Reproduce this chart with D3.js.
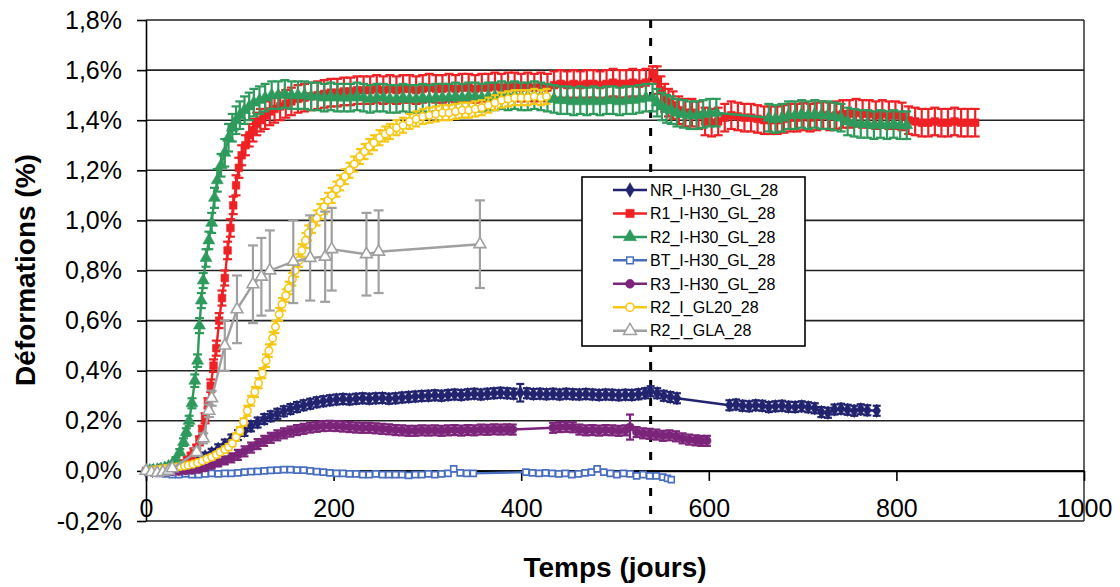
<!DOCTYPE html>
<html><head><meta charset="utf-8">
<script src="https://cdn.jsdelivr.net/npm/d3@7"></script>
<style>body{margin:0;background:#fff}svg{display:block;font-family:"Liberation Sans",Arial,sans-serif}</style>
</head><body>
<svg id="chart" width="1120" height="587"></svg>
<script>
// ---- DATA: [day, deformation %, (optional) error] ----
const seriesNames = ["NR_I-H30_GL_28","R1_I-H30_GL_28","R2_I-H30_GL_28","BT_I-H30_GL_28","R3_I-H30_GL_28","R2_I_GL20_28","R2_I_GLA_28"];
const seriesColors = ["#22236e","#ee2124","#2e9a5c","#4a6fc0","#7b2479","#f6c716","#a0a0a0"];
const defaultErr = [0.02,0.055,0.055,0.008,0.02,0.03,0.1];

const nrData = [[0,0,0.003],[7,0,0.003],[14,0.003,0.004],[21,0.008,0.005],[28,0.012,0.006],[35,0.018,0.008],[42,0.025,0.01],[49,0.035,0.012],[56,0.045,0.014],[63,0.058,0.015],[70,0.072,0.016],[77,0.088,0.018],[84,0.105],[91,0.125],[98,0.143],[105,0.16],[112,0.178],[119,0.193],[126,0.207],[133,0.218],[140,0.228],[147,0.238],[154,0.247],[161,0.255],[168,0.262],[175,0.268],[182,0.274],[189,0.278],[196,0.282],[203,0.285],[210,0.287],[217,0.285],[224,0.288],[231,0.29],[238,0.288],[245,0.29],[252,0.291],[259,0.288],[266,0.29],[273,0.293],[280,0.295],[287,0.297],[294,0.299],[301,0.3],[308,0.302],[315,0.3],[322,0.303],[329,0.305],[336,0.303],[343,0.306],[350,0.308],[357,0.305],[364,0.308],[371,0.31],[378,0.312],[385,0.31],[392,0.308],[399,0.312,0.035],[406,0.31],[413,0.307],[420,0.308],[427,0.306],[434,0.308],[441,0.305],[448,0.308],[455,0.306],[462,0.305],[469,0.307],[476,0.305],[483,0.303],[490,0.305],[497,0.304],[504,0.302],[511,0.304],[518,0.303],[525,0.306],[532,0.31],[538,0.318],[545,0.31],[552,0.3],[559,0.295],[566,0.29],[622,0.262],[629,0.265],[636,0.26],[643,0.258],[650,0.262],[657,0.26],[664,0.255],[671,0.258],[678,0.26],[685,0.256],[692,0.255],[699,0.258],[706,0.254],[713,0.25],[720,0.235],[727,0.232],[734,0.245],[741,0.248],[748,0.244],[755,0.24],[762,0.246],[769,0.242],[779,0.24]];

const r1Data = [[0,0,0.002],[4,0,0.003],[8,0.002,0.003],[12,0.003,0.004],[16,0.005,0.004],[20,0.007,0.005],[24,0.01,0.005],[28,0.012,0.006],[32,0.016,0.006],[36,0.022,0.008],[40,0.03,0.01],[44,0.045,0.01],[48,0.06,0.012],[51,0.075,0.015],[54,0.09,0.015],[57,0.12,0.018],[60,0.16,0.02],[63,0.21,0.02],[66,0.27,0.02],[69,0.34,0.025],[72,0.42,0.025],[75,0.49,0.03],[78,0.6,0.03],[81,0.69,0.03],[84,0.77,0.03],[87,0.88,0.035],[90,0.97,0.035],[93,1.06,0.035],[96,1.14,0.04],[99,1.21,0.04],[102,1.26,0.04],[106,1.3,0.04],[110,1.34,0.045],[114,1.36,0.045],[118,1.385,0.045],[122,1.4,0.045],[127,1.42],[132,1.435],[137,1.445],[143,1.455],[149,1.465],[155,1.475],[162,1.485],[169,1.49],[176,1.495],[183,1.5],[190,1.505],[197,1.51],[204,1.51],[211,1.515],[218,1.515],[225,1.52],[232,1.52],[239,1.52],[246,1.525],[253,1.52],[260,1.525],[267,1.52],[274,1.525],[281,1.525],[288,1.52],[295,1.525],[302,1.53],[309,1.525],[316,1.525],[323,1.53],[330,1.525],[337,1.53],[344,1.53],[351,1.525],[358,1.53],[365,1.53],[372,1.535],[379,1.53],[386,1.535],[393,1.535],[400,1.53],[407,1.535],[414,1.53],[421,1.535],[428,1.53],[435,1.54],[442,1.545],[449,1.54],[456,1.545],[463,1.54],[470,1.545],[477,1.545],[484,1.54],[491,1.545],[498,1.55],[505,1.545],[512,1.545],[519,1.55],[526,1.545],[533,1.55],[540,1.585,0.03],[545,1.56],[549,1.52],[553,1.49],[557,1.47],[562,1.46],[568,1.44],[575,1.43],[582,1.43],[589,1.42],[596,1.395],[603,1.39],[610,1.395],[617,1.41],[624,1.42],[631,1.415],[638,1.41],[645,1.41],[652,1.405],[659,1.4],[666,1.4],[673,1.4],[680,1.405],[687,1.41],[694,1.41],[701,1.415],[708,1.41],[715,1.415],[722,1.42],[729,1.415],[736,1.42],[743,1.425],[750,1.425],[757,1.43],[764,1.425],[771,1.425],[778,1.42],[785,1.425],[792,1.42],[799,1.42],[806,1.415],[813,1.4],[820,1.395],[827,1.39],[834,1.39],[841,1.395],[848,1.39],[855,1.39],[862,1.395],[869,1.39],[876,1.39],[884,1.39]];

const r2Data = [[0,0,0.002],[4,0.002,0.003],[8,0.003,0.003],[12,0.005,0.004],[16,0.008,0.004],[20,0.012,0.005],[24,0.018,0.006],[28,0.028,0.008],[32,0.045,0.01],[36,0.075,0.012],[40,0.115,0.015],[43,0.155,0.015],[46,0.2,0.02],[49,0.27,0.02],[52,0.36,0.025],[55,0.44,0.025],[57,0.58,0.03],[59,0.68,0.03],[61,0.76,0.03],[64,0.85,0.035],[67,0.92,0.035],[70,0.99,0.04],[73,1.09,0.04],[76,1.16,0.045],[80,1.22,0.045],[84,1.27],[88,1.33],[92,1.37],[96,1.4],[100,1.42],[105,1.44],[110,1.455],[115,1.47],[121,1.48],[127,1.49],[134,1.5],[141,1.5],[148,1.505],[155,1.5],[162,1.5],[169,1.5],[176,1.495],[183,1.495],[190,1.49],[197,1.495],[204,1.49],[211,1.49],[218,1.49],[225,1.495],[232,1.49],[239,1.485],[246,1.49],[253,1.49],[260,1.485],[267,1.485],[274,1.49],[281,1.485],[288,1.485],[295,1.49],[302,1.485],[309,1.49],[316,1.49],[323,1.49],[330,1.495],[337,1.49],[344,1.495],[351,1.495],[358,1.49],[365,1.495],[372,1.495],[379,1.5],[386,1.495],[393,1.5],[400,1.495],[407,1.495],[414,1.5],[421,1.495],[428,1.49],[435,1.485],[442,1.48],[449,1.48],[456,1.475],[463,1.48],[470,1.475],[477,1.48],[484,1.475],[491,1.48],[498,1.48],[505,1.475],[512,1.48],[519,1.48],[526,1.485],[533,1.49],[540,1.49],[545,1.47],[550,1.455],[555,1.445],[560,1.44],[566,1.43],[573,1.425],[580,1.42],[587,1.42],[594,1.425],[601,1.43],[608,1.43],[664,1.41],[671,1.405],[678,1.41],[685,1.42],[692,1.42],[699,1.425],[706,1.42],[713,1.425],[720,1.42],[727,1.42],[734,1.415],[741,1.41],[748,1.395],[755,1.39],[762,1.385],[769,1.385],[776,1.38],[783,1.385],[790,1.38],[797,1.385],[804,1.38],[811,1.38]];

const btData = [[0,0],[7,-0.005],[14,-0.01],[21,-0.012],[28,-0.015],[35,-0.015],[42,-0.012],[49,-0.015],[56,-0.015],[63,-0.012],[70,-0.01],[77,-0.012],[84,-0.01],[91,-0.01],[98,-0.008],[105,-0.005],[112,-0.003],[119,-0.002],[126,0],[133,0.002],[140,0.003],[147,0.005],[154,0.005],[161,0.003],[168,0.003],[175,0],[182,-0.003],[189,-0.005],[196,-0.008],[203,-0.01],[210,-0.01],[217,-0.012],[224,-0.012],[231,-0.015],[238,-0.015],[245,-0.012],[252,-0.015],[259,-0.015],[266,-0.015],[273,-0.015],[280,-0.018],[287,-0.015],[294,-0.015],[301,-0.012],[308,-0.015],[315,-0.012],[322,-0.01],[328,0.008],[335,-0.008],[342,-0.01],[349,-0.01],[405,-0.005],[412,-0.008],[419,-0.01],[426,-0.008],[433,-0.01],[440,-0.012],[447,-0.01],[454,-0.015],[461,-0.012],[468,-0.008],[475,-0.005],[481,0.008],[488,-0.005],[495,-0.01],[502,-0.015],[509,-0.01],[516,-0.012],[523,-0.02],[530,-0.015],[537,-0.02],[544,-0.02],[551,-0.025],[556,-0.03],[560,-0.035]];

const r3Data = [[0,0,0.003],[7,-0.003,0.003],[14,-0.005,0.003],[21,-0.005,0.004],[28,-0.003,0.004],[35,-0.002,0.005],[42,0,0.005],[49,0.002,0.006],[56,0.005,0.008],[63,0.012,0.01],[70,0.022,0.012],[77,0.032,0.014],[84,0.042,0.016],[91,0.052,0.018],[98,0.064],[105,0.078],[112,0.093],[119,0.107],[126,0.12],[133,0.132],[140,0.142],[147,0.15],[154,0.157],[161,0.163],[168,0.168],[175,0.173],[182,0.176],[189,0.179],[196,0.18],[203,0.179],[210,0.177],[217,0.175],[224,0.173],[231,0.172],[238,0.172],[245,0.17],[252,0.168],[259,0.166],[266,0.163],[273,0.162],[280,0.16],[287,0.16],[294,0.162],[301,0.161],[308,0.162],[315,0.16],[322,0.162],[329,0.163],[336,0.161],[343,0.163],[350,0.162],[357,0.165],[364,0.164],[371,0.166],[378,0.165],[385,0.166],[391,0.165],[434,0.172],[441,0.175],[448,0.176],[455,0.174],[462,0.165],[469,0.162],[476,0.163],[483,0.161],[490,0.163],[497,0.162],[504,0.16],[511,0.162],[516,0.175,0.05],[523,0.155],[530,0.15],[537,0.148],[544,0.145],[551,0.14],[558,0.142],[565,0.138],[572,0.13],[579,0.125],[586,0.122],[592,0.12],[598,0.12]];

const gl20Data = [[0,0,0.003],[4,0,0.003],[8,0.003,0.003],[12,0.005,0.004],[16,0.007,0.004],[20,0.009,0.004],[25,0.011,0.005],[29,0.013,0.005],[33,0.015,0.005],[37,0.018,0.005],[41,0.02,0.006],[45,0.023,0.006],[50,0.027,0.006],[55,0.033,0.007],[60,0.04,0.008],[65,0.048,0.008],[70,0.055,0.01],[75,0.065,0.01],[79,0.075,0.01],[84,0.085,0.012],[88,0.095,0.012],[92,0.11,0.012],[96,0.135,0.015],[100,0.16,0.015],[104,0.195,0.015],[108,0.24,0.02],[112,0.28,0.02],[116,0.315,0.02],[120,0.35,0.02],[124,0.39,0.02],[128,0.44,0.025],[131,0.48,0.025],[135,0.53,0.025],[138,0.575,0.025],[142,0.625,0.025],[145,0.665,0.025],[149,0.7,0.025],[152,0.73,0.025],[156,0.765,0.025],[159,0.8,0.025],[163,0.84,0.025],[166,0.88,0.025],[170,0.92],[173,0.95],[177,0.98],[182,1.01],[186,1.035],[190,1.055],[194,1.08],[198,1.1],[203,1.125],[207,1.15],[212,1.175],[217,1.2],[222,1.225],[228,1.255],[233,1.275],[238,1.295],[243,1.31],[249,1.33],[255,1.345],[260,1.355],[267,1.37],[274,1.38],[281,1.395],[288,1.405],[295,1.415],[302,1.42],[309,1.425],[316,1.43],[323,1.43],[330,1.435],[337,1.44],[344,1.44],[351,1.445],[358,1.45],[365,1.46],[372,1.47],[379,1.48],[386,1.485],[393,1.49],[400,1.49],[407,1.49],[414,1.495],[421,1.49],[427,1.495]];

const glaData = [[0,0,0.005],[6,-0.005,0.005],[12,-0.008,0.005],[18,-0.005,0.005],[24,0,0.005],[28,0.01,0.008],[54,0.075,0.015],[61,0.13,0.02],[67,0.24,0.025],[70,0.29,0.03],[84,0.5,0.1],[97,0.645,0.135],[114,0.745,0.155],[123,0.775,0.155],[132,0.8,0.16],[157,0.835,0.165],[175,0.85,0.17],[191,0.855,0.18],[198,0.885,0.165],[235,0.865,0.165],[248,0.875,0.165],[356,0.905,0.175]];

const xTicks = [0,200,400,600,800,1000];
const yTicks = [-0.2,0,0.2,0.4,0.6,0.8,1.0,1.2,1.4,1.6,1.8];
const markerLineDay = 538;
const xTitle = "Temps (jours)";
const yTitle = "Déformations (%)";

// ---- CHART ----
const seriesData = [nrData,r1Data,r2Data,btData,r3Data,gl20Data,glaData];
const markerTypes = [d3.symbolDiamond,d3.symbolSquare,d3.symbolTriangle,d3.symbolSquare,d3.symbolCircle,d3.symbolCircle,d3.symbolTriangle];
const markerOpen = [false,false,false,true,false,true,true];
const markerSize = [52,58,62,36,52,44,60];
const capHalf = [4,4.5,4.5,3.5,4,4,5];

const svg = d3.select("#chart");
const L = 146, R = 1084, T = 20, B = 521;
const x = d3.scaleLinear().domain([0,1000]).range([L,R]);
const y = d3.scaleLinear().domain([-0.2,1.8]).range([B,T]);

// gridlines
svg.append("g").selectAll("line").data(yTicks).join("line")
  .attr("x1",L).attr("x2",R).attr("y1",d=>y(d)).attr("y2",d=>y(d))
  .attr("stroke","#222").attr("stroke-width",1.6);
// right border
svg.append("line").attr("x1",R).attr("x2",R).attr("y1",T).attr("y2",B).attr("stroke","#222").attr("stroke-width",1.4);

// y axis
const fmt = d => d3.format(".1f")(d).replace("−","-").replace(".",",")+"%";
const yAxis = svg.append("g").attr("transform",`translate(${L},0)`)
  .call(d3.axisLeft(y).tickValues(yTicks).tickSize(9).tickSizeOuter(0).tickPadding(15).tickFormat(fmt));
yAxis.selectAll("text").attr("font-size",25).attr("font-family","Liberation Sans, Arial, sans-serif").attr("fill","#000");
yAxis.selectAll("line,path").attr("stroke","#000").attr("stroke-width",1.6);

// x axis ticks at 0 line
const xAxis = svg.append("g").attr("transform",`translate(0,${y(0)})`)
  .call(d3.axisBottom(x).tickValues(xTicks).tickSize(10).tickSizeOuter(0).tickFormat(""));
xAxis.selectAll("line,path").attr("stroke","#000").attr("stroke-width",1.6);
// x labels low
const xLab = svg.append("g").attr("transform",`translate(0,${B})`)
  .call(d3.axisBottom(x).tickValues(xTicks).tickSize(0).tickPadding(-22).tickFormat(d3.format("d")));
xLab.select(".domain").remove();
xLab.selectAll("text").attr("font-size",25).attr("font-family","Liberation Sans, Arial, sans-serif").attr("fill","#000");

// dashed vertical line
svg.append("line").attr("x1",x(markerLineDay)).attr("x2",x(markerLineDay)).attr("y1",T).attr("y2",B)
  .attr("stroke","#000").attr("stroke-width",3).attr("stroke-dasharray","8,10");

// series
const line = d3.line().x(d=>x(d[0])).y(d=>y(d[1]));
seriesData.forEach((data,i)=>{
  const g = svg.append("g");
  const c = seriesColors[i];
  const eb = g.append("g").attr("stroke",c).attr("stroke-width",2.2);
  data.forEach(d=>{
    const e = d.length>2 ? d[2] : defaultErr[i];
    const cx = x(d[0]);
    eb.append("line").attr("x1",cx).attr("x2",cx).attr("y1",y(d[1]-e)).attr("y2",y(d[1]+e));
    [d[1]-e,d[1]+e].forEach(v=>eb.append("line").attr("x1",cx-capHalf[i]).attr("x2",cx+capHalf[i]).attr("y1",y(v)).attr("y2",y(v)));
  });
  g.append("path").datum(data).attr("d",line).attr("fill","none").attr("stroke",c).attr("stroke-width",2.4);
  g.selectAll("path.m").data(data).join("path").attr("class","m")
    .attr("transform",d=>`translate(${x(d[0])},${y(d[1])})`)
    .attr("d",d3.symbol().type(markerTypes[i]).size(markerSize[i]))
    .attr("fill",markerOpen[i]?"#fff":c).attr("stroke",c).attr("stroke-width",markerOpen[i]?1.6:0.6);
});

// legend
const lg = svg.append("g");
lg.append("rect").attr("x",582).attr("y",177).attr("width",223).attr("height",169)
  .attr("fill","#fff").attr("stroke","#000").attr("stroke-width",1.6);
seriesNames.forEach((n,i)=>{
  const cy = 190 + i*23.45;
  lg.append("line").attr("x1",613).attr("x2",647).attr("y1",cy).attr("y2",cy).attr("stroke",seriesColors[i]).attr("stroke-width",2.5);
  lg.append("path").attr("transform",`translate(630,${cy})`)
    .attr("d",d3.symbol().type(markerTypes[i]).size(markerSize[i]*1.2))
    .attr("fill",markerOpen[i]?"#fff":seriesColors[i]).attr("stroke",seriesColors[i]).attr("stroke-width",markerOpen[i]?1.5:0.5);
  lg.append("text").attr("x",650).attr("y",cy).attr("dy","0.36em").attr("font-size",16).attr("fill","#000").text(n);
});

// axis titles
svg.append("text").attr("transform","translate(35,270) rotate(-90)").attr("text-anchor","middle")
  .attr("font-size",28).attr("font-weight","bold").attr("fill","#000").text(yTitle);
svg.append("text").attr("x",615).attr("y",577).attr("text-anchor","middle")
  .attr("font-size",28).attr("font-weight","bold").attr("fill","#000").text(xTitle);
</script>
</body></html>
